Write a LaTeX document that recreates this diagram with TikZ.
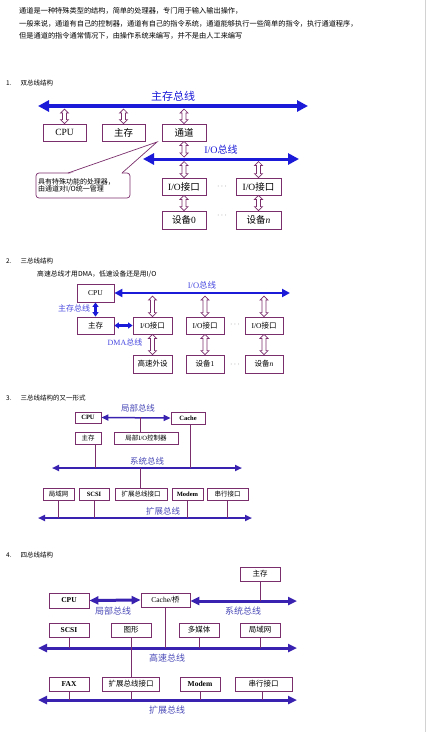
\documentclass[tikz,border=0pt]{standalone}
\usepackage{fontspec}
\setmainfont{Liberation Serif}
\newfontfamily\cjk{Noto Sans CJK SC}
\usetikzlibrary{arrows.meta,calc}
\newcommand\zh[1]{{\cjk #1}}
\newcommand\fsz[1]{\fontsize{#1}{#1}\selectfont}
\definecolor{boxc}{HTML}{7A2E6C}
\definecolor{busa}{HTML}{1A1AD8}
\definecolor{busb}{HTML}{3A22B0}
\definecolor{labc}{HTML}{4A4AB8}
\newcommand\hollowarr[2]{%
  \filldraw[harr] let \p1=(#1), \p2=(#2) in
    (\x1-2pt,\y1-4pt) -- (\x1-4pt,\y1-4pt) -- (\x1,\y1) -- (\x1+4pt,\y1-4pt) -- (\x1+2pt,\y1-4pt)
    -- (\x1+2pt,\y2+4pt) -- (\x1+4pt,\y2+4pt) -- (\x1,\y2) -- (\x1-4pt,\y2+4pt) -- (\x1-2pt,\y2+4pt) -- cycle;}
\tikzset{
  bx/.style={draw=boxc, fill=white, line width=0.8pt, inner sep=0pt},
  bxone/.style={bx, minimum width=43pt, minimum height=17pt, font=\fsz{9.5}},
  bxtwo/.style={bx, minimum width=38pt, minimum height=17pt, font=\fsz{7.5}},
  bxthree/.style={bx, minimum height=12pt, line width=0.7pt, font=\fsz{6.5}},
  bxfour/.style={bx, minimum width=40pt, minimum height=14pt, font=\fsz{7.5}},
  harr/.style={draw=boxc, fill=white, line width=0.7pt},
  txt/.style={anchor=west, inner sep=0pt, font=\cjk\fsz{7.2}},
  labone/.style={text=busa, inner sep=0pt, font=\cjk\fsz{11}},
  labtwo/.style={text=busa!80!white, inner sep=0pt, font=\cjk\fsz{8}},
  labthree/.style={text=labc, inner sep=0pt, font=\cjk\fsz{8.5}},
  dots/.style={text=gray!80!black, inner sep=0pt, font=\fsz{8}},
  busone/.style={busa, line width=3.5pt, {Triangle[length=11pt,width=11pt]}-{Triangle[length=11pt,width=11pt]}},
  bustwo/.style={busa, line width=2.6pt, {Triangle[length=8pt,width=8pt]}-{Triangle[length=8pt,width=8pt]}},
  busshort/.style={busa, line width=2.4pt, {Triangle[length=4.5pt,width=6pt]}-{Triangle[length=4.5pt,width=6pt]}},
  busthree/.style={busb, line width=2pt, {Triangle[length=7pt,width=6pt]}-{Triangle[length=7pt,width=6pt]}},
  busfour/.style={busb, line width=3pt, {Triangle[length=9pt,width=8pt]}-{Triangle[length=9pt,width=8pt]}},
  link/.style={boxc, line width=0.7pt}
}
\begin{document}
\begin{tikzpicture}[x=1pt,y=-1pt]
\useasboundingbox (0,0) rectangle (427,732);
\draw[gray!35, line width=0.8pt] (425,0) -- (425,732);

\node[txt] (t1) at (19,11) {通道是一种特殊类型的结构，简单的处理器，专门用于输入输出操作，};
\node[txt] (t2) at (19,24) {一般来说，通道有自己的控制器，通道有自己的指令系统，通道能够执行一些简单的指令，执行通道程序，};
\node[txt] (t3) at (19,36) {但是通道的指令通常情况下，由操作系统来编写，并不是由人工来编写};

\node[txt, font=\cjk\fsz{6.5}] (s1) at (6,83) {1.\hspace{9pt}双总线结构};
\coordinate (mbl) at (38,106);
\coordinate (mbr) at (308,106);
\coordinate (mbb) at (0,109);
\draw[busone] (mbl) -- (mbr);
\node[labone] (mbt) at (173,96) {主存总线};
\node[bxone] (cpu1) at (64.5,132.5) {CPU};
\node[bxone] (mem1) at (123.5,132.5) {\zh{主存}};
\node[bxone, minimum width=44pt] (chan1) at (184,132.5) {\zh{通道}};
\hollowarr{cpu1.north |- mbb}{cpu1.north}
\hollowarr{mem1.north |- mbb}{mem1.north}
\hollowarr{chan1.north |- mbb}{chan1.north}
\coordinate (iol) at (143,159);
\coordinate (ior) at (299,159);
\coordinate (iot) at (0,157);
\coordinate (iob) at (0,161.5);
\draw[busone, line width=3pt] (iol) -- (ior);
\node[labone, font=\fsz{10}] (iotx) at (221,150) {I/O\zh{总线}};
\hollowarr{chan1.south}{chan1.south |- iot}
\node[bxone, minimum width=44pt] (io1a) at (184,186.5) {I/O\zh{接口}};
\node[bxone, minimum width=45pt] (io1b) at (258.5,186.5) {I/O\zh{接口}};
\node[bxone, minimum width=44pt, minimum height=18pt] (dv1a) at (184,220) {\zh{设备}0};
\node[bxone, minimum width=45pt, minimum height=18pt] (dv1b) at (258.5,220) {\zh{设备}\textit{n}};
\hollowarr{io1a.north |- iob}{io1a.north}
\hollowarr{io1b.north |- iob}{io1b.north}
\hollowarr{io1a.south}{dv1a.north}
\hollowarr{io1b.south}{dv1b.north}
\node[dots] (d1a) at (222,187) {$\cdots$};
\node[dots] (d1b) at (222,216) {$\cdots$};
\node[bx, rounded corners=3pt, line width=0.7pt, minimum width=94pt, minimum height=25pt,
  align=left, text width=90pt, font=\cjk\fsz{7}] (note) at (83,185.5)
  {具有特殊功能的处理器，\\由通道对I/O统一管理};
\coordinate (tip) at (157,142);
\fill[white] (69,174) -- (tip) -- (121,174) -- cycle;
\draw[boxc, line width=0.7pt] (68,173) -- (tip) -- (122,173);

\node[txt, font=\cjk\fsz{6.5}] (s2) at (6,261) {2.\hspace{9pt}三总线结构};
\node[txt, font=\cjk\fsz{6.8}] (s2b) at (37,274) {高速总线才用DMA，低速设备还是用I/O};
\node[bxtwo, minimum width=37pt, minimum height=18pt] (cpu2) at (95.5,293) {CPU};
\node[bxtwo, minimum width=37pt] (mem2) at (95.5,325.5) {\zh{主存}};
\node[bxtwo, minimum width=39pt] (ioA) at (152.5,325.5) {I/O\zh{接口}};
\node[bxtwo] (ioB) at (205,325.5) {I/O\zh{接口}};
\node[bxtwo] (ioC) at (264,325.5) {I/O\zh{接口}};
\node[bxtwo, minimum width=39pt, minimum height=18pt] (dvA) at (152.5,364) {\zh{高速外设}};
\node[bxtwo, minimum height=18pt] (dvB) at (205,364) {\zh{设备}1};
\node[bxtwo, minimum height=18pt] (dvC) at (264,364) {\zh{设备}\textit{n}};
\coordinate (io2r) at (290,293);
\coordinate (io2b) at (0,296);
\draw[bustwo] (cpu2.east) -- (io2r);
\node[labtwo, font=\fsz{8.5}] (io2t) at (202,285) {I/O\zh{总线}};
\draw[busshort] (cpu2.south) -- (mem2.north);
\node[labtwo] (mb2t) at (74,308) {主存总线};
\draw[busshort] (mem2.east) -- (ioA.west);
\node[labtwo, font=\fsz{8}] (dma2t) at (125,342) {DMA\zh{总线}};
\hollowarr{ioA.north |- io2b}{ioA.north}
\hollowarr{ioB.north |- io2b}{ioB.north}
\hollowarr{ioC.north |- io2b}{ioC.north}
\hollowarr{ioA.south}{dvA.north}
\hollowarr{ioB.south}{dvB.north}
\hollowarr{ioC.south}{dvC.north}
\node[dots] (d2a) at (235,325) {$\cdots$};
\node[dots] (d2b) at (235,365) {$\cdots$};

\node[txt, font=\cjk\fsz{6.5}] (s3) at (6,398) {3.\hspace{9pt}三总线结构的又一形式};
\node[bxthree, minimum width=26pt, minimum height=11pt] (cpu3) at (88,417.5) {\textbf{CPU}};
\node[bxthree, minimum width=34pt] (cache3) at (188,418) {\textbf{Cache}};
\node[bxthree, minimum width=26pt] (mem3) at (88,438) {\zh{主存}};
\node[bxthree, minimum width=64pt] (ctl3) at (146,438) {\zh{局部}I/O\zh{控制器}};
\draw[busthree, line width=1.5pt] (cpu3.east) -- (cache3.west);
\node[labthree] (lb3t) at (138,408) {局部总线};
\coordinate (lb3) at (140,417);
\draw[link] (lb3) -- (lb3 |- ctl3.north);
\coordinate (sb3l) at (52,468);
\coordinate (sb3r) at (242,468);
\draw[busthree] (sb3l) -- (sb3r);
\node[labthree] (sb3t) at (147,461) {系统总线};
\draw[link] (mem3.south -| 95,0) -- (95,468);
\draw[link] (cache3.south -| 190,0) -- (190,468);
\node[bxthree, minimum width=31pt] (lan3) at (58.5,494) {\zh{局域网}};
\node[bxthree, minimum width=30pt] (scsi3) at (94,494) {\textbf{SCSI}};
\node[bxthree, minimum width=52pt] (ext3) at (141,494) {\zh{扩展总线接口}};
\node[bxthree, minimum width=31pt] (modem3) at (187.5,494) {\textbf{Modem}};
\node[bxthree, minimum width=41pt] (ser3) at (227.5,494) {\zh{串行接口}};
\draw[link] (140,468) -- (140,488);
\coordinate (eb3l) at (38,518);
\coordinate (eb3r) at (252,518);
\draw[busthree] (eb3l) -- (eb3r);
\node[labthree] (eb3t) at (163,511) {扩展总线};
\draw[link] (lan3.south) -- (lan3.south |- eb3l);
\draw[link] (scsi3.south) -- (scsi3.south |- eb3l);
\draw[link] (modem3.south) -- (modem3.south |- eb3l);
\draw[link] (ser3.south) -- (ser3.south |- eb3l);

\node[txt, font=\cjk\fsz{6.5}] (s4) at (6,555) {4.\hspace{9pt}四总线结构};
\node[bxfour] (mem4) at (260,574) {\zh{主存}};
\node[bxfour, minimum height=15pt] (cpu4) at (69,600.5) {\textbf{CPU}};
\node[bxfour, minimum width=49pt] (cache4) at (165.5,600) {Cache/\zh{桥}};
\draw[busfour] (cpu4.east) -- (cache4.west);
\node[labthree, font=\cjk\fsz{9}] (lb4t) at (113,611) {局部总线};
\coordinate (sb4r) at (297,601);
\draw[busfour] (cache4.east |- sb4r) -- (sb4r);
\node[labthree, font=\cjk\fsz{9}] (sb4t) at (243,611) {系统总线};
\draw[link] (mem4.south) -- (mem4.south |- sb4r);
\node[bxfour] (scsi4) at (69,630) {\textbf{SCSI}};
\node[bxfour] (gfx4) at (131,630) {\zh{图形}};
\node[bxfour] (mm4) at (199,630) {\zh{多媒体}};
\node[bxfour] (lan4) at (260,630) {\zh{局域网}};
\coordinate (hb4l) at (38,648);
\coordinate (hb4r) at (297,648);
\draw[busfour] (hb4l) -- (hb4r);
\node[labthree, font=\cjk\fsz{9}] (hb4t) at (167,658) {高速总线};
\draw[link] (scsi4.south) -- (scsi4.south |- hb4l);
\draw[link] (cache4.south) -- (cache4.south |- hb4l);
\draw[link] (mm4.south) -- (mm4.south |- hb4l);
\draw[link] (lan4.south) -- (lan4.south |- hb4l);
\node[bxfour] (fax4) at (69,684) {\textbf{FAX}};
\node[bxfour, minimum width=57pt] (ext4) at (131,684) {\zh{扩展总线接口}};
\node[bxfour] (modem4) at (200,684) {\textbf{Modem}};
\node[bxfour, minimum width=57pt] (ser4) at (263.5,684) {\zh{串行接口}};
\draw[link] (gfx4.south) -- (ext4.north);
\coordinate (eb4l) at (38,700);
\coordinate (eb4r) at (297,700);
\draw[busfour] (eb4l) -- (eb4r);
\node[labthree, font=\cjk\fsz{9}] (eb4t) at (167,710) {扩展总线};
\draw[link] (fax4.south) -- (fax4.south |- eb4l);
\draw[link] (ext4.south) -- (ext4.south |- eb4l);
\draw[link] (modem4.south) -- (modem4.south |- eb4l);
\draw[link] (ser4.south -| 262,0) -- (262,700);
\end{tikzpicture}
\end{document}
